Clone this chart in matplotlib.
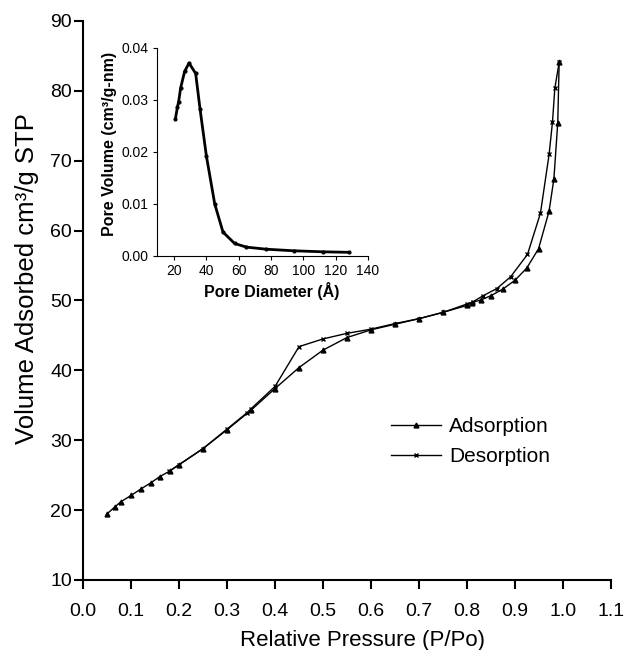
import matplotlib
matplotlib.use('Agg')
import matplotlib.pyplot as plt

plt.rcParams['font.family'] = ['Liberation Sans', 'DejaVu Sans']

# isotherm data (relative pressure, volume adsorbed)
ads_p = [0.049, 0.067, 0.079, 0.10, 0.12, 0.141, 0.16, 0.181, 0.20, 0.25, 0.30, 0.35,
         0.40, 0.45, 0.50, 0.55, 0.60, 0.65, 0.70, 0.75, 0.80, 0.81, 0.83, 0.85,
         0.874, 0.90, 0.924, 0.949, 0.971, 0.981, 0.989, 0.992]
ads_v = [19.4, 20.5, 21.2, 22.1, 23.0, 23.9, 24.8, 25.6, 26.5, 28.8, 31.5, 34.3,
         37.4, 40.4, 42.9, 44.7, 45.8, 46.6, 47.4, 48.3, 49.3, 49.7, 50.1, 50.7,
         51.6, 52.9, 54.6, 57.4, 62.8, 67.4, 75.4, 84.1]

des_p = [0.992, 0.983, 0.978, 0.971, 0.953, 0.926, 0.891, 0.862, 0.834, 0.812, 0.80,
         0.75, 0.70, 0.65, 0.60, 0.55, 0.50, 0.45, 0.40, 0.35, 0.341, 0.30, 0.25,
         0.20, 0.18]
des_v = [84.1, 80.4, 75.5, 70.9, 62.5, 56.6, 53.4, 51.7, 50.7, 49.8, 49.5,
         48.3, 47.4, 46.7, 45.9, 45.3, 44.5, 43.4, 37.7, 34.5, 33.9, 31.6, 28.8,
         26.5, 25.6]

# pore size distribution (inset)
pore_d = [20.9, 22.1, 22.9, 24.1, 26.6, 29.3, 33.4, 36.1, 40.0, 45.2, 50.3, 57.5,
          64.8, 77.1, 94.0, 112.1, 128.2]
pore_v = [0.0264, 0.0286, 0.0297, 0.0323, 0.0355, 0.0371, 0.0351, 0.0283, 0.0193,
          0.0100, 0.0046, 0.0024, 0.0017, 0.0013, 0.0010, 0.0008, 0.0007]

fig = plt.figure(figsize=(6.27, 6.5), dpi=100)
ax = fig.add_axes([0.1324, 0.1077, 0.8421, 0.86])

ax.plot(ads_p, ads_v, color='black', lw=1, marker='^', ms=3.5, label='Adsorption')
ax.plot(des_p, des_v, color='black', lw=1, marker='x', ms=3.5, mew=1, label='Desorption')

ax.set_xlim(0, 1.1)
ax.set_ylim(10, 90)
ax.set_xticks([i / 10 for i in range(12)])
ax.set_xticklabels([f'{i / 10:.1f}' for i in range(12)])
ax.set_yticks(range(10, 91, 10))
ax.spines['top'].set_visible(False)
ax.spines['right'].set_visible(False)
ax.spines['left'].set_linewidth(1.5)
ax.spines['bottom'].set_linewidth(1.5)
ax.tick_params(direction='out', length=6.5, width=1.5, labelsize=14)
ax.tick_params(axis='x', pad=10)
ax.tick_params(axis='y', pad=1.5)
ax.set_xlabel('Relative Pressure (P/Po)', fontsize=16, labelpad=7)
ax.set_ylabel('Volume Adsorbed cm³/g STP', fontsize=18.5, labelpad=8)
# labels sit a little off-centre in the original
ax.xaxis.label.set_x(0.53)
ax.yaxis.label.set_y(0.5385)

leg = ax.legend(loc='center left', bbox_to_anchor=(0.567, 0.2474), borderaxespad=0,
                frameon=False, fontsize=15, handlelength=2.4, handletextpad=0.4,
                labelspacing=0.5)

# inset
axin = fig.add_axes([0.2504, 0.6062, 0.3366, 0.32])
axin.plot(pore_d, pore_v, color='black', lw=2, marker='o', ms=2)
axin.set_xlim(9.5, 140)
axin.set_ylim(0, 0.04)
axin.set_xticks(range(20, 141, 20))
axin.set_yticks([0.0, 0.01, 0.02, 0.03, 0.04])
axin.set_yticklabels(['0.00', '0.01', '0.02', '0.03', '0.04'])
axin.spines['top'].set_visible(False)
axin.spines['right'].set_visible(False)
axin.tick_params(direction='out', length=3, labelsize=10, pad=3)
axin.set_xlabel('Pore Diameter (Å)', fontsize=11.5, fontweight='bold', labelpad=3)
axin.set_ylabel('Pore Volume (cm³/g-nm)', fontsize=11.5, fontweight='bold', labelpad=3)
axin.xaxis.label.set_x(0.543)
axin.yaxis.label.set_y(0.538)

fig.savefig('out.png', dpi=100)
